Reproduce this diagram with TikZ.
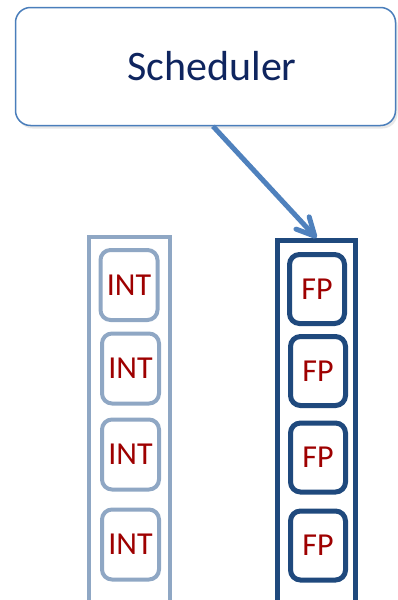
\documentclass[tikz,border=0pt]{standalone}
\usepackage{fontspec}
\setmainfont{Carlito}
\usetikzlibrary{arrows.meta,shadows}
\definecolor{schedborder}{RGB}{74,126,187}
\definecolor{schedtext}{RGB}{15,37,95}
\definecolor{arrowblue}{RGB}{79,129,189}
\definecolor{intblue}{RGB}{143,167,196}
\definecolor{fpblue}{RGB}{31,73,125}
\definecolor{unitred}{RGB}{158,0,0}
\tikzset{
  schedbox/.style={draw=schedborder, line width=1.5pt, rounded corners=15pt, fill=white,
    minimum width=380pt, minimum height=118pt, inner sep=0pt,
    font=\fontsize{42}{50}\selectfont, text=schedtext,
    drop shadow={opacity=0.18, shadow xshift=2pt, shadow yshift=-3pt}},
  intcolbox/.style={draw=intblue, line width=4pt, minimum width=81pt, minimum height=368pt, inner sep=0pt},
  fpcolbox/.style={draw=fpblue, line width=5pt, minimum width=78pt, minimum height=365pt, inner sep=0pt},
  intunit/.style={draw=intblue, line width=4pt, rounded corners=10pt, fill=white,
    minimum width=57pt, minimum height=70pt, inner sep=0pt,
    font=\fontsize{32}{36}\selectfont, text=unitred},
  fpunit/.style={draw=fpblue, line width=5pt, rounded corners=10pt, fill=white,
    minimum width=55pt, minimum height=69pt, inner sep=0pt,
    font=\fontsize{32}{36}\selectfont, text=unitred},
  arr/.style={draw=arrowblue, line width=5pt,
    -{Straight Barb[length=18pt, width=18pt, line cap=round, line join=round]}}
}
\begin{document}
\begin{tikzpicture}[x=1pt, y=-1pt]
\useasboundingbox (0,0) rectangle (397,600);
\node[schedbox] (sched) at (205.5,66.5) {\hspace{13pt}Scheduler};

\node[intcolbox] (intcol) at (129.5,421) {};
\node[fpcolbox] (fpcol) at (316.5,423) {};

\node[intunit] (int1) at (129,285) {INT};
\node[intunit] (int2) at (130.5,368.5) {INT};
\node[intunit] (int3) at (130.5,454.5) {INT};
\node[intunit] (int4) at (130.5,544.5) {INT};

\node[fpunit] (fp1) at (317,289) {FP};
\node[fpunit] (fp2) at (318,371) {FP};
\node[fpunit] (fp3) at (318,457.5) {FP};
\node[fpunit] (fp4) at (318,545.5) {FP};

\draw[arr] ([xshift=7.5pt]sched.south) -- (fpcol.north);
\end{tikzpicture}
\end{document}
